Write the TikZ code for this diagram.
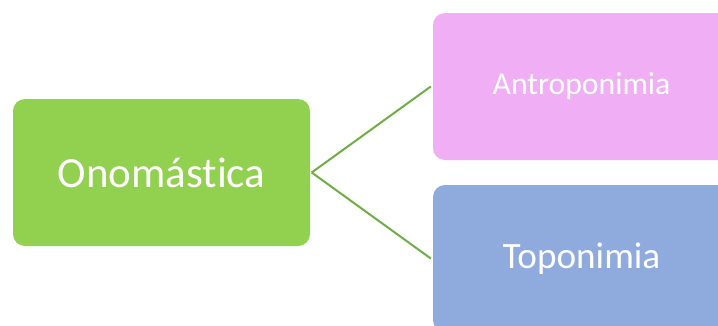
\documentclass[tikz,border=0pt]{standalone}
\usepackage{fontspec}
\setmainfont[Ligatures=NoCommon]{Carlito}
\definecolor{gfill}{RGB}{146,208,80}
\definecolor{pfill}{RGB}{240,174,245}
\definecolor{bfill}{RGB}{143,170,220}
\definecolor{lcol}{RGB}{112,173,71}
\begin{document}
\begin{tikzpicture}[x=1pt,y=-1pt,
  boxstyle/.style={rounded corners=12pt, minimum width=297pt, minimum height=147pt, inner sep=0pt, text=white},
  conn/.style={draw=lcol, line width=2pt}]
\useasboundingbox (0,0) rectangle (718,325);
\clip (0,0) rectangle (718,325);
\fill[white] (0,0) rectangle (718,325);
\node[boxstyle, fill=gfill] (g) at (161.5,172.5) {\fontsize{43}{43}\selectfont Onomástica};
\node[boxstyle, fill=pfill] (p) at (581.5,86.5) {\fontsize{31.7}{31.7}\selectfont\raisebox{-3pt}{Antroponimia}};
\node[boxstyle, fill=bfill] (b) at (581.5,258.5) {\fontsize{37.2}{37.2}\selectfont Toponimia};
\draw[conn] ([xshift=1.5pt]g.east) -- ([xshift=-2pt]p.west);
\draw[conn] ([xshift=1.5pt]g.east) -- ([xshift=-2pt]b.west);
\end{tikzpicture}
\end{document}
